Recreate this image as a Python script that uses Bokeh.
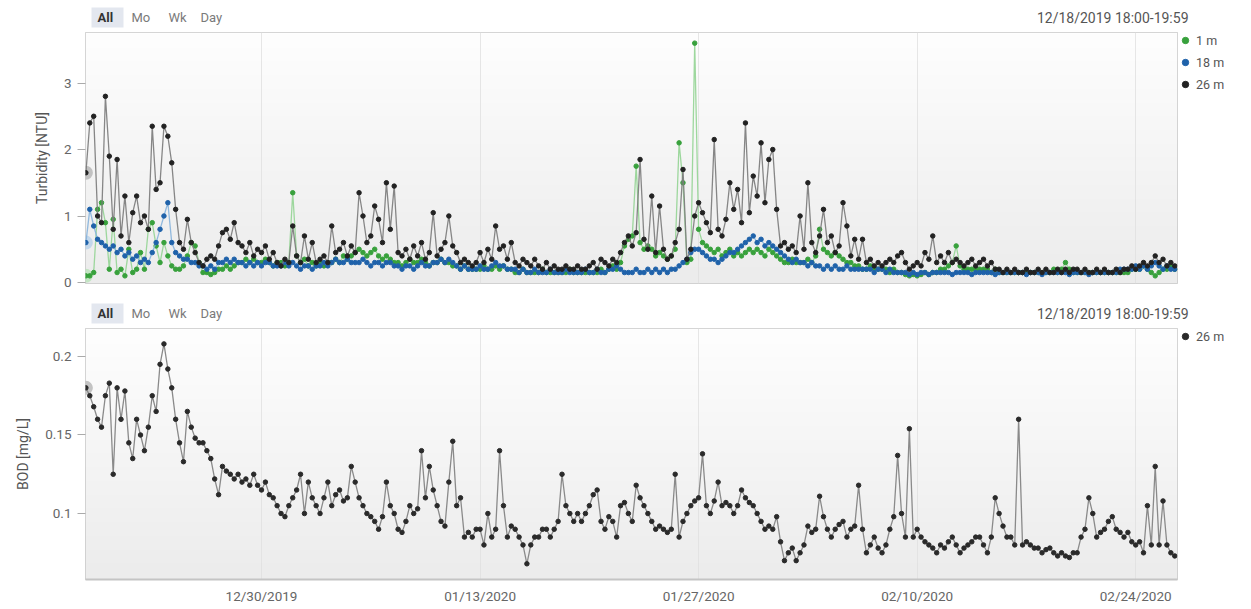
import numpy as np
import pandas as pd
from bokeh.plotting import figure
from bokeh.layouts import column
from bokeh.models import (Range1d, FixedTicker, Grid, Legend, LegendItem,
                          ColumnDataSource, DatetimeTickFormatter)
from bokeh.core.properties import value
from bokeh.embed import file_html
from bokeh.resources import INLINE

# ---------------- data ----------------
START = "2019-12-18 18:00"
STEP = "6h"
X_START = "2019-12-18 17:24"
X_END = "2020-02-26 16:15"

x_tick_dates = ["2019-12-30", "2020-01-13", "2020-01-27", "2020-02-10", "2020-02-24"]
x_tick_labels = ["12/30/2019", "01/13/2020", "01/27/2020", "02/10/2020", "02/24/2020"]
turb_ticks = [0, 1, 2, 3]
bod_ticks = [0.1, 0.15, 0.2]
bod_tick_labels = ["0.1", "0.15", "0.2"]
header_buttons = ["All", "Mo", "Wk", "Day"]
header_date = "12/18/2019 18:00-19:59"

turb_26m = [
    1.65, 2.4, 2.5, 1.0, 0.9, 2.8, 1.9, 0.8, 1.85, 0.7,
    1.3, 0.6, 1.05, 1.3, 0.9, 1.0, 0.8, 2.35, 1.4, 1.5,
    2.35, 2.2, 1.8, 1.1, 0.6, 0.5, 0.95, 0.6, 0.45, 0.3,
    0.25, 0.35, 0.4, 0.35, 0.55, 0.75, 0.8, 0.65, 0.9, 0.6,
    0.55, 0.45, 0.6, 0.4, 0.5, 0.45, 0.55, 0.35, 0.45, 0.3,
    0.25, 0.35, 0.3, 0.85, 0.4, 0.3, 0.7, 0.35, 0.6, 0.3,
    0.35, 0.4, 0.3, 0.85, 0.45, 0.5, 0.6, 0.4, 0.55, 0.45,
    1.35, 1.0, 0.6, 0.7, 1.15, 0.95, 0.6, 1.5, 0.8, 1.45,
    0.45, 0.4, 0.5, 0.35, 0.55, 0.4, 0.6, 0.35, 0.45, 1.05,
    0.4, 0.5, 0.6, 1.0, 0.55, 0.45, 0.3, 0.35, 0.3, 0.25,
    0.3, 0.45, 0.3, 0.5, 0.35, 0.85, 0.5, 0.55, 0.35, 0.6,
    0.3, 0.25, 0.35, 0.3, 0.25, 0.35, 0.25, 0.2, 0.3, 0.2,
    0.25, 0.2, 0.2, 0.25, 0.2, 0.2, 0.25, 0.2, 0.2, 0.25,
    0.3, 0.2, 0.35, 0.3, 0.25, 0.35, 0.3, 0.45, 0.6, 0.7,
    0.55, 0.75, 1.85, 0.65, 0.5, 1.3, 0.45, 1.15, 0.5, 0.35,
    0.4, 0.6, 0.8, 1.7, 0.35, 0.5, 1.0, 1.2, 1.05, 0.9,
    0.75, 2.15, 0.8, 0.7, 0.95, 1.5, 1.1, 1.4, 0.9, 2.4,
    1.05, 1.6, 1.3, 2.1, 1.2, 1.85, 2.0, 1.1, 0.55, 0.6,
    0.5, 0.55, 0.45, 1.0, 0.5, 1.5, 0.6, 0.45, 0.7, 1.1,
    0.6, 0.7, 0.45, 0.55, 1.2, 0.85, 0.4, 0.65, 0.35, 0.65,
    0.3, 0.35, 0.25, 0.3, 0.25, 0.3, 0.35, 0.3, 0.4, 0.45,
    0.3, 0.2, 0.25, 0.3, 0.25, 0.45, 0.35, 0.7, 0.3, 0.4,
    0.3, 0.45, 0.3, 0.35, 0.3, 0.25, 0.3, 0.35, 0.25, 0.3,
    0.35, 0.25, 0.3, 0.2, 0.2, 0.15, 0.2, 0.15, 0.2, 0.15,
    0.15, 0.2, 0.15, 0.15, 0.2, 0.15, 0.2, 0.15, 0.15, 0.2,
    0.15, 0.2, 0.15, 0.2, 0.2, 0.15, 0.2, 0.15, 0.15, 0.2,
    0.15, 0.2, 0.15, 0.15, 0.2, 0.15, 0.2, 0.2, 0.25, 0.2,
    0.25, 0.3, 0.25, 0.3, 0.4, 0.3, 0.35, 0.25, 0.3, 0.25,
]

turb_18m = [
    0.6, 1.1, 0.85, 0.65, 0.6, 0.55, 0.5, 0.55, 0.45, 0.5,
    0.4, 0.45, 0.35, 0.4, 0.3, 0.35, 0.3, 0.45, 0.6, 0.8,
    1.0, 1.2, 0.6, 0.45, 0.4, 0.35, 0.35, 0.3, 0.3, 0.25,
    0.25, 0.2, 0.25, 0.2, 0.3, 0.3, 0.35, 0.3, 0.35, 0.3,
    0.3, 0.25, 0.3, 0.25, 0.3, 0.25, 0.3, 0.3, 0.25, 0.25,
    0.25, 0.3, 0.25, 0.3, 0.25, 0.2, 0.25, 0.25, 0.2, 0.25,
    0.25, 0.3, 0.25, 0.3, 0.35, 0.3, 0.3, 0.35, 0.3, 0.3,
    0.3, 0.35, 0.3, 0.25, 0.3, 0.3, 0.25, 0.3, 0.3, 0.25,
    0.25, 0.2, 0.25, 0.25, 0.2, 0.25, 0.3, 0.25, 0.25, 0.3,
    0.3, 0.35, 0.3, 0.35, 0.3, 0.25, 0.2, 0.25, 0.2, 0.2,
    0.2, 0.25, 0.2, 0.2, 0.25, 0.3, 0.25, 0.25, 0.2, 0.2,
    0.2, 0.15, 0.2, 0.15, 0.15, 0.2, 0.15, 0.15, 0.15, 0.2,
    0.15, 0.15, 0.15, 0.2, 0.15, 0.15, 0.15, 0.15, 0.2, 0.15,
    0.15, 0.2, 0.15, 0.15, 0.2, 0.2, 0.25, 0.2, 0.15, 0.15,
    0.15, 0.2, 0.15, 0.15, 0.2, 0.15, 0.2, 0.15, 0.2, 0.15,
    0.2, 0.2, 0.25, 0.3, 0.35, 0.45, 0.5, 0.5, 0.45, 0.4,
    0.35, 0.35, 0.3, 0.35, 0.4, 0.45, 0.45, 0.5, 0.55, 0.6,
    0.65, 0.7, 0.6, 0.65, 0.55, 0.6, 0.55, 0.5, 0.45, 0.4,
    0.35, 0.3, 0.35, 0.3, 0.3, 0.25, 0.3, 0.25, 0.25, 0.2,
    0.25, 0.2, 0.25, 0.2, 0.2, 0.25, 0.2, 0.2, 0.2, 0.2,
    0.2, 0.2, 0.15, 0.2, 0.2, 0.15, 0.2, 0.15, 0.15, 0.15,
    0.15, 0.12, 0.15, 0.12, 0.15, 0.15, 0.12, 0.15, 0.15, 0.15,
    0.15, 0.15, 0.12, 0.15, 0.15, 0.15, 0.15, 0.12, 0.15, 0.15,
    0.15, 0.15, 0.15, 0.12, 0.15, 0.15, 0.15, 0.15, 0.15, 0.15,
    0.15, 0.12, 0.15, 0.15, 0.15, 0.12, 0.15, 0.15, 0.15, 0.15,
    0.15, 0.15, 0.12, 0.15, 0.15, 0.15, 0.15, 0.12, 0.15, 0.15,
    0.15, 0.15, 0.15, 0.15, 0.15, 0.2, 0.2, 0.2, 0.2, 0.25,
    0.2, 0.25, 0.2, 0.25, 0.3, 0.25, 0.2, 0.25, 0.2, 0.2,
]

turb_1m = [
    0.1, 0.1, 0.15, 1.1, 1.2, 0.9, 0.2, 0.95, 0.15, 0.2,
    0.1, 0.5, 0.15, 0.2, 0.45, 0.2, 0.8, 0.9, 0.55, 0.3,
    0.6, 0.4, 0.25, 0.2, 0.2, 0.25, 0.4, 0.6, 0.55, 0.3,
    0.15, 0.15, 0.12, 0.15, 0.2, 0.2, 0.25, 0.2, 0.25, 0.3,
    0.3, 0.35, 0.3, 0.35, 0.3, 0.3, 0.35, 0.3, 0.25, 0.3,
    0.3, 0.25, 0.3, 1.35, 0.4, 0.3, 0.35, 0.25, 0.3, 0.25,
    0.3, 0.25, 0.3, 0.3, 0.35, 0.3, 0.4, 0.35, 0.4, 0.45,
    0.5, 0.45, 0.4, 0.45, 0.5, 0.4, 0.35, 0.4, 0.35, 0.3,
    0.3, 0.25, 0.3, 0.35, 0.3, 0.3, 0.35, 0.3, 0.25, 0.3,
    0.3, 0.35, 0.3, 0.3, 0.25, 0.25, 0.2, 0.25, 0.2, 0.2,
    0.2, 0.2, 0.25, 0.2, 0.2, 0.25, 0.2, 0.25, 0.2, 0.2,
    0.15, 0.15, 0.2, 0.15, 0.15, 0.15, 0.15, 0.2, 0.15, 0.15,
    0.15, 0.15, 0.15, 0.15, 0.2, 0.15, 0.15, 0.15, 0.15, 0.15,
    0.15, 0.15, 0.2, 0.15, 0.2, 0.25, 0.2, 0.3, 0.55, 0.65,
    0.7, 1.75, 0.6, 0.5, 0.55, 0.5, 0.4, 0.45, 0.4, 0.35,
    0.4, 0.5, 2.1, 1.5, 0.3, 0.35, 3.6, 0.8, 0.6, 0.55,
    0.5, 0.45, 0.5, 0.4, 0.45, 0.5, 0.4, 0.45, 0.4, 0.45,
    0.5, 0.45, 0.5, 0.45, 0.4, 0.5, 0.45, 0.4, 0.35, 0.3,
    0.3, 0.35, 0.3, 0.3, 0.3, 0.35, 0.3, 0.4, 0.8, 0.5,
    0.45, 0.4, 0.45, 0.4, 0.35, 0.3, 0.3, 0.25, 0.25, 0.2,
    0.2, 0.25, 0.2, 0.2, 0.2, 0.2, 0.15, 0.2, 0.15, 0.15,
    0.12, 0.1, 0.12, 0.1, 0.12, 0.15, 0.12, 0.15, 0.15, 0.2,
    0.2, 0.25, 0.3, 0.55, 0.25, 0.2, 0.2, 0.2, 0.2, 0.2,
    0.2, 0.2, 0.15, 0.2, 0.15, 0.15, 0.15, 0.15, 0.15, 0.15,
    0.15, 0.15, 0.15, 0.15, 0.15, 0.15, 0.15, 0.15, 0.2, 0.15,
    0.2, 0.3, 0.2, 0.15, 0.15, 0.15, 0.15, 0.15, 0.15, 0.15,
    0.15, 0.15, 0.15, 0.15, 0.15, 0.15, 0.15, 0.15, 0.2, 0.2,
    0.2, 0.25, 0.2, 0.15, 0.1, 0.15, 0.2, 0.2, 0.25, 0.2,
]

bod_26m = [
    0.18, 0.175, 0.168, 0.16, 0.155, 0.175, 0.183, 0.125, 0.18, 0.16,
    0.178, 0.145, 0.135, 0.16, 0.15, 0.14, 0.155, 0.175, 0.165, 0.195,
    0.208, 0.192, 0.18, 0.16, 0.145, 0.133, 0.165, 0.155, 0.148, 0.145,
    0.145, 0.14, 0.135, 0.122, 0.112, 0.13, 0.127, 0.125, 0.122, 0.125,
    0.12, 0.122, 0.118, 0.125, 0.118, 0.115, 0.12, 0.112, 0.11, 0.105,
    0.1, 0.098, 0.105, 0.11, 0.115, 0.125, 0.1, 0.12, 0.11, 0.105,
    0.1, 0.11, 0.12, 0.105, 0.112, 0.115, 0.108, 0.11, 0.13, 0.12,
    0.11, 0.105, 0.1, 0.098, 0.095, 0.09, 0.098, 0.12, 0.105, 0.1,
    0.09, 0.088, 0.095, 0.105, 0.1, 0.103, 0.14, 0.11, 0.13, 0.115,
    0.105, 0.095, 0.092, 0.12, 0.146, 0.105, 0.11, 0.085, 0.088, 0.085,
    0.09, 0.09, 0.08, 0.1, 0.085, 0.09, 0.14, 0.105, 0.085, 0.092,
    0.09, 0.085, 0.08, 0.068, 0.08, 0.085, 0.085, 0.09, 0.09, 0.085,
    0.09, 0.095, 0.125, 0.105, 0.1, 0.095, 0.1, 0.095, 0.1, 0.105,
    0.112, 0.115, 0.095, 0.09, 0.098, 0.095, 0.085, 0.105, 0.107, 0.1,
    0.095, 0.118, 0.11, 0.105, 0.1, 0.095, 0.09, 0.092, 0.09, 0.088,
    0.09, 0.125, 0.085, 0.095, 0.1, 0.105, 0.108, 0.11, 0.138, 0.105,
    0.1, 0.108, 0.12, 0.105, 0.107, 0.105, 0.1, 0.105, 0.115, 0.11,
    0.107, 0.105, 0.1, 0.095, 0.09, 0.092, 0.09, 0.098, 0.082, 0.07,
    0.075, 0.078, 0.07, 0.075, 0.08, 0.092, 0.088, 0.09, 0.111, 0.098,
    0.09, 0.085, 0.09, 0.093, 0.095, 0.085, 0.09, 0.092, 0.118, 0.09,
    0.075, 0.08, 0.085, 0.078, 0.075, 0.08, 0.09, 0.098, 0.137, 0.1,
    0.085, 0.154, 0.085, 0.09, 0.085, 0.082, 0.08, 0.078, 0.075, 0.08,
    0.078, 0.082, 0.085, 0.08, 0.075, 0.078, 0.08, 0.082, 0.085, 0.085,
    0.08, 0.075, 0.085, 0.11, 0.1, 0.092, 0.085, 0.085, 0.08, 0.16,
    0.08, 0.082, 0.08, 0.078, 0.078, 0.075, 0.077, 0.078, 0.075, 0.073,
    0.075, 0.073, 0.072, 0.075, 0.075, 0.085, 0.09, 0.11, 0.1, 0.085,
    0.088, 0.09, 0.095, 0.098, 0.09, 0.088, 0.085, 0.088, 0.082, 0.08,
    0.082, 0.075, 0.105, 0.08, 0.13, 0.08, 0.108, 0.08, 0.075, 0.073,
]

# ---------------- styling / layout ----------------
FONT = "Roboto"
FRAME_W = 1092
FRAME_H = 251
LEFT = 85
RIGHT = 66
HDR_EXTRA = 14          # header frame reaches a little past the plot frame
TICK_COLOR = "#666666"
LABEL_COLOR = "#555555"
BTN_X = [12, 46, 83, 115]      # frame-relative pixel positions of the buttons
DATE_X = FRAME_W + 11          # right edge of the date text

times = pd.date_range(START, periods=len(bod_26m), freq=STEP)
x0 = pd.Timestamp(X_START)
x1 = pd.Timestamp(X_END)
tick_ms = [pd.Timestamp(d).value // 10**6 for d in x_tick_dates]


def header_fig(h, yc):
    fw = FRAME_W + HDR_EXTRA
    hf = figure(frame_width=fw, frame_height=h, x_range=Range1d(0, fw), y_range=Range1d(0, h),
                x_axis_location=None, y_axis_location=None,
                min_border_left=LEFT, min_border_right=RIGHT - HDR_EXTRA,
                min_border_top=0, min_border_bottom=0,
                output_backend="svg", toolbar_location=None)
    hf.outline_line_color = None
    hf.background_fill_color = "white"
    for g in hf.grid:
        g.visible = False
    hf.quad(left=[BTN_X[0] - 6], right=[BTN_X[0] + 26], bottom=[yc - 10], top=[yc + 10],
            fill_color="#e3e7ef", line_color=None)
    for i, txt in enumerate(header_buttons):
        bold = i == 0
        hf.text(x=[BTN_X[i]], y=[yc], text=[txt], text_font=value(FONT),
                text_font_size="13px", text_font_style="bold" if bold else "normal",
                text_color="#333333" if bold else "#7a7a7a",
                text_baseline="middle", text_align="left")
    hf.text(x=[DATE_X], y=[yc], text=[header_date], text_font=value(FONT),
            text_font_size="14px", text_color="#555555",
            text_baseline="middle", text_align="right")
    return hf


def add_background(p, y0, y1):
    H = 128
    g = np.linspace(236, 254, H).astype(np.uint8)
    img = np.empty((H, 1), dtype=np.uint32)
    view = img.view(dtype=np.uint8).reshape((H, 1, 4))
    view[:, 0, 0] = g
    view[:, 0, 1] = g
    view[:, 0, 2] = g
    view[:, 0, 3] = 255
    xs = x0.value / 1e6
    xe = x1.value / 1e6
    p.image_rgba(image=[img], x=xs, y=y0, dw=xe - xs, dh=y1 - y0, level="image")


def style_y(p, label):
    ax = p.yaxis[0]
    ax.axis_label = label
    ax.axis_label_text_font = FONT
    ax.axis_label_text_font_size = "14px"
    ax.axis_label_text_font_style = "normal"
    ax.axis_label_text_color = LABEL_COLOR
    ax.axis_label_standoff = 11
    ax.major_label_text_font = FONT
    ax.major_label_text_font_size = "13.5px"
    ax.major_label_text_color = TICK_COLOR
    ax.major_tick_out = 8
    ax.major_tick_in = 0
    ax.major_tick_line_color = "#aaaaaa"
    ax.minor_tick_line_color = None
    ax.axis_line_color = None
    ax.major_label_standoff = 6


def add_xgrid(p):
    for g in p.xgrid:
        g.grid_line_color = None
    p.add_layout(Grid(dimension=0, ticker=FixedTicker(ticks=tick_ms),
                      grid_line_color="#e0e0e0", grid_line_alpha=0.8))


def make_legend(p, items):
    leg = Legend(items=items, location="top_left", orientation="vertical",
                 border_line_color=None, background_fill_alpha=0,
                 label_text_font=FONT, label_text_font_size="12.5px",
                 label_text_color=LABEL_COLOR, glyph_width=16, glyph_height=16,
                 label_height=16, spacing=6, padding=4, margin=0, label_standoff=3)
    p.add_layout(leg, "right")


src = ColumnDataSource(dict(t=times, g=turb_1m, b=turb_18m, k=turb_26m, bod=bod_26m))

# ---------------- top: turbidity ----------------
h1 = header_fig(31, 14)

T_Y0, T_Y1 = -0.015, 3.76
p1 = figure(x_range=Range1d(x0, x1), y_range=Range1d(T_Y0, T_Y1),
            x_axis_type="datetime", x_axis_location=None,
            frame_width=FRAME_W, frame_height=FRAME_H,
            min_border_left=LEFT, min_border_right=RIGHT, min_border_top=1, min_border_bottom=8,
            output_backend="svg", toolbar_location=None)
p1.outline_line_color = "#c8c8c8"
p1.ygrid.grid_line_color = None
p1.yaxis.ticker = FixedTicker(ticks=turb_ticks)
add_xgrid(p1)
style_y(p1, "Turbidity [NTU]")
add_background(p1, T_Y0, T_Y1)

series = [("1 m", "g", "#93d493", "#38a13c", "#b5e3b5"),
          ("18 m", "b", "#86b2dc", "#1f62aa", "#b3cfea"),
          ("26 m", "k", "#7a7a7a", "#222222", "#b0b0b0")]
items = []
for name, col, lc, mc, hc in series:
    p1.scatter(x=[times[0]], y=[src.data[col][0]], size=14, fill_color=hc,
               fill_alpha=0.75, line_color=None)
for name, col, lc, mc, hc in series:
    p1.line("t", col, source=src, line_color=lc, line_width=1.3, line_alpha=0.9)
    r = p1.scatter("t", col, source=src, size=4.5, fill_color=mc, line_color=mc)
    items.append(LegendItem(label=name, renderers=[r]))
make_legend(p1, items)

# ---------------- bottom: BOD ----------------
h2 = header_fig(36, 14)

B_Y0, B_Y1 = 0.058, 0.2178
p2 = figure(x_range=p1.x_range, y_range=Range1d(B_Y0, B_Y1),
            x_axis_type="datetime",
            frame_width=FRAME_W, frame_height=FRAME_H,
            min_border_left=LEFT, min_border_right=RIGHT, min_border_top=1, min_border_bottom=24,
            output_backend="svg", toolbar_location=None)
p2.outline_line_color = "#c8c8c8"
p2.ygrid.grid_line_color = None
p2.yaxis.ticker = FixedTicker(ticks=bod_ticks)
p2.yaxis.major_label_overrides = dict(zip(bod_ticks, bod_tick_labels))
p2.xaxis.ticker = FixedTicker(ticks=tick_ms)
add_xgrid(p2)
p2.xaxis.formatter = DatetimeTickFormatter(days="%m/%d/%Y", months="%m/%d/%Y",
                                           years="%m/%d/%Y", hours="%m/%d/%Y")
p2.xaxis.major_label_overrides = dict(zip(tick_ms, x_tick_labels))
xa = p2.xaxis[0]
xa.major_label_text_font = FONT
xa.major_label_text_font_size = "13.5px"
xa.major_label_text_color = TICK_COLOR
xa.major_tick_out = 0
xa.major_tick_in = 0
xa.minor_tick_line_color = None
xa.axis_line_color = "#c4c4c4"
xa.axis_line_width = 2
xa.major_label_standoff = 8
style_y(p2, "BOD [mg/L]")
add_background(p2, B_Y0, B_Y1)

p2.scatter(x=[times[0]], y=[bod_26m[0]], size=14, fill_color="#b0b0b0",
           fill_alpha=0.75, line_color=None)
p2.line("t", "bod", source=src, line_color="#8a8a8a", line_width=1.3)
rb = p2.scatter("t", "bod", source=src, size=4.5, fill_color="#2a2a2a", line_color="#2a2a2a")
make_legend(p2, [LegendItem(label="26 m", renderers=[rb])])

layout = column(h1, p1, h2, p2)
open("out.html", "w").write(file_html(layout, INLINE))
